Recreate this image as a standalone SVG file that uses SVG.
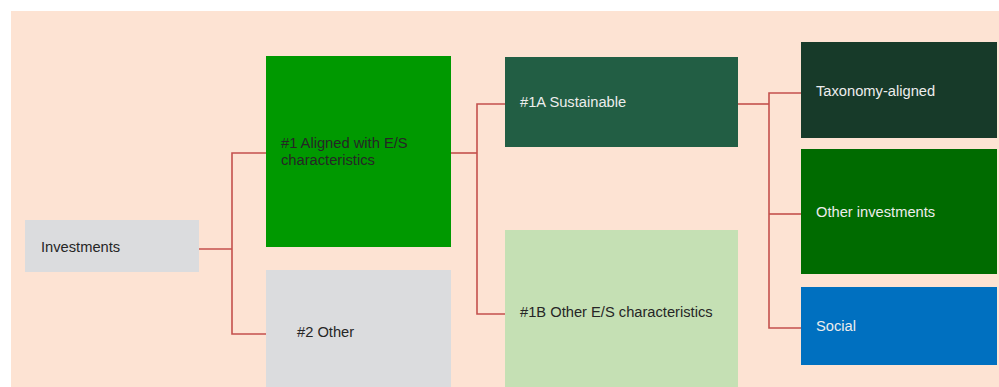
<svg xmlns="http://www.w3.org/2000/svg" width="999" height="387" viewBox="0 0 999 387">
<style>
text{font-family:"Liberation Sans",Arial,sans-serif;font-size:14.7px}
.dk{fill:#262626}.lt{fill:#EDEDED}
.cn{fill:none;stroke:#C4504D;stroke-width:1.6}
</style>
<rect x="0" y="0" width="999" height="387" fill="#FFFFFF"/>
<rect x="11" y="11" width="988" height="376" fill="#FDE3D3"/>
<g id="connectors">
<polyline class="cn" points="199,249 232,249"/>
<polyline class="cn" points="266,153 232,153 232,334 266,334"/>
<polyline class="cn" points="451,153 477,153"/>
<polyline class="cn" points="505,104 477,104 477,314 505,314"/>
<polyline class="cn" points="738,104 769,104"/>
<polyline class="cn" points="801,93 769,93 769,328 801,328"/>
<polyline class="cn" points="769,214 801,214"/>
</g>
<g id="investments"><rect x="25" y="220" width="174" height="52" fill="#DBDCDE"/><text class="dk" x="41" y="252">Investments</text></g>
<g id="aligned"><rect x="266" y="56" width="185" height="191" fill="#009900"/><text class="dk" x="281" y="148">#1 Aligned with E/S</text><text class="dk" x="281" y="165">characteristics</text></g>
<g id="other"><rect x="266" y="270" width="185" height="117" fill="#DBDCDE"/><text class="dk" x="297" y="337">#2 Other</text></g>
<g id="sustainable"><rect x="505" y="57" width="233" height="90" fill="#225E44"/><text class="lt" x="520" y="107">#1A Sustainable</text></g>
<g id="otherES"><rect x="505" y="230" width="233" height="157" fill="#C5E0B4"/><text class="dk" x="520" y="317">#1B Other E/S characteristics</text></g>
<g id="taxonomy"><rect x="801" y="42" width="196" height="96" fill="#173A29"/><text class="lt" x="816" y="96">Taxonomy-aligned</text></g>
<g id="otherinv"><rect x="801" y="149" width="196" height="125" fill="#006B00"/><text class="lt" x="816" y="217">Other investments</text></g>
<g id="social"><rect x="801" y="287" width="196" height="78" fill="#0070C0"/><text class="lt" x="816" y="331">Social</text></g>
</svg>
